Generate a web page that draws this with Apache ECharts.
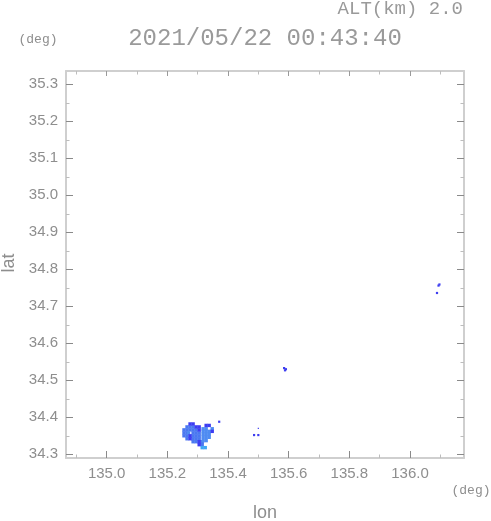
<!DOCTYPE html>
<html>
<head>
<meta charset="utf-8">
<script src="https://cdn.jsdelivr.net/npm/echarts@6/dist/echarts.min.js"></script>
<style>
html,body{margin:0;padding:0;background:#fff;}
#chart{width:491px;height:521px;}
</style>
</head>
<body>
<div id="chart"></div>
<script>
// ---- axis ranges and ticks ----
const lonRange = [134.866, 136.178];
const latRange = [34.290, 35.336];
const lonMajorTicks = [135.0, 135.2, 135.4, 135.6, 135.8, 136.0];
const lonMinorTicks = [134.9, 135.1, 135.3, 135.5, 135.7, 135.9, 136.1];
const latMajorTicks = [34.3, 34.4, 34.5, 34.6, 34.7, 34.8, 34.9, 35.0, 35.1, 35.2, 35.3];
const latMinorTicks = [34.35, 34.45, 34.55, 34.65, 34.75, 34.85, 34.95, 35.05, 35.15, 35.25];

// ---- echo cells [lon, lat] by intensity level ----
const lightCells = [
  [135.315, 34.318], [135.325, 34.318]
];
const paleCells = [
  [135.318, 34.369], [135.328, 34.369], [135.348, 34.369],
  [135.318, 34.362], [135.328, 34.362], [135.338, 34.362],
  [135.318, 34.354], [135.328, 34.354], [135.338, 34.354],
  [135.318, 34.346], [135.328, 34.346], [135.338, 34.346],
  [135.318, 34.337], [135.328, 34.337],
  [135.270, 34.358]
];
const midCells = [
  [135.265, 34.374], [135.275, 34.374], [135.285, 34.374],
  [135.255, 34.366], [135.265, 34.366], [135.275, 34.366], [135.285, 34.366], [135.295, 34.366],
  [135.255, 34.358], [135.265, 34.358], [135.285, 34.358], [135.295, 34.358], [135.305, 34.358],
  [135.255, 34.350], [135.265, 34.350], [135.285, 34.350], [135.295, 34.350], [135.305, 34.350],
  [135.265, 34.342], [135.285, 34.342], [135.295, 34.342], [135.305, 34.342],
  [135.285, 34.334], [135.295, 34.334], [135.315, 34.334],
  [135.315, 34.326]
];
const darkCells = [
  [135.275, 34.382], [135.285, 34.382],
  [135.295, 34.374], [135.305, 34.374],
  [135.305, 34.366],
  [135.275, 34.350], [135.275, 34.342],
  [135.305, 34.334], [135.305, 34.326],
  [135.328, 34.378], [135.338, 34.378],
  [135.348, 34.362]
];
const spotCells = [
  [135.371, 34.388],
  [135.486, 34.352], [135.500, 34.352],
  [135.585, 34.533], [135.591, 34.530], [135.588, 34.527],
  [136.094, 34.756], [136.097, 34.759],
  [136.089, 34.736]
];
const tinySpots = [
  [135.500, 34.370]
];

const textGray = '#8e8e8e';
const lineGray = '#cfcfcf';

function makeAxis(kind, position, ticks, withLabels, tickLen, tickColor, showLine) {
  const range = kind === 'x' ? lonRange : latRange;
  return {
    type: 'value',
    position: position,
    min: range[0],
    max: range[1],
    axisLine: { show: showLine, onZero: false, lineStyle: { color: lineGray, width: 2 } },
    axisTick: {
      show: true, inside: true, length: tickLen,
      customValues: ticks,
      lineStyle: { color: tickColor, width: 1 }
    },
    axisLabel: withLabels ? {
      show: true,
      customValues: ticks,
      formatter: v => Number(v).toFixed(1),
      color: textGray,
      fontFamily: 'Liberation Sans',
      fontSize: 15,
      margin: 8
    } : { show: false },
    splitLine: { show: false }
  };
}

function cellSeries(data, color, size) {
  return {
    type: 'scatter',
    data: data,
    symbol: 'rect',
    symbolSize: size,
    itemStyle: { color: color, opacity: 1 },
    silent: true,
    animation: false
  };
}

const chart = echarts.init(document.getElementById('chart'), null, { renderer: 'canvas' });
chart.setOption({
  animation: false,
  backgroundColor: '#ffffff',
  grid: { left: 66, right: 27, top: 71, bottom: 63 },
  xAxis: [
    makeAxis('x', 'bottom', lonMajorTicks, true, 7, '#8a8a8a', true),
    makeAxis('x', 'bottom', lonMinorTicks, false, 3.5, '#bdbdbd', false),
    makeAxis('x', 'top', lonMajorTicks, false, 5, '#9a9a9a', true),
    makeAxis('x', 'top', lonMinorTicks, false, 3.5, '#bdbdbd', false)
  ],
  yAxis: [
    makeAxis('y', 'left', latMajorTicks, true, 7, '#8a8a8a', true),
    makeAxis('y', 'left', latMinorTicks, false, 3.5, '#bdbdbd', false),
    makeAxis('y', 'right', latMajorTicks, false, 7, '#8a8a8a', true),
    makeAxis('y', 'right', latMinorTicks, false, 3.5, '#bdbdbd', false)
  ],
  series: [
    cellSeries(midCells, '#4a78f0', 3.4),
    cellSeries(paleCells, '#4f8cf2', 3.4),
    cellSeries(darkCells, '#3d3df2', 3.4),
    cellSeries(lightCells, '#3fa8f5', 3.4),
    cellSeries(spotCells, '#3f3ff0', 2.2),
    cellSeries(tinySpots, '#3f3ff0', 1.2)
  ],
  graphic: [
    { type: 'text', x: 463, y: 9, style: { text: 'ALT(km) 2.0', fill: '#9a9a9a', font: '19px "Liberation Mono"', align: 'right', verticalAlign: 'middle' } },
    { type: 'text', x: 265, y: 39, style: { text: '2021/05/22 00:43:40', fill: '#9a9a9a', font: '24px "Liberation Mono"', align: 'center', verticalAlign: 'middle' } },
    { type: 'text', x: 38, y: 40, style: { text: '(deg)', fill: textGray, font: '13px "Liberation Mono"', align: 'center', verticalAlign: 'middle' } },
    { type: 'text', x: 471, y: 491, style: { text: '(deg)', fill: textGray, font: '13px "Liberation Mono"', align: 'center', verticalAlign: 'middle' } },
    { type: 'text', x: 265, y: 513, style: { text: 'lon', fill: textGray, font: '18px "Liberation Sans"', align: 'center', verticalAlign: 'middle' } },
    { type: 'text', x: 9, y: 263, rotation: Math.PI / 2, style: { text: 'lat', fill: textGray, font: '18px "Liberation Sans"', align: 'center', verticalAlign: 'middle' } }
  ]
});
</script>
</body>
</html>
